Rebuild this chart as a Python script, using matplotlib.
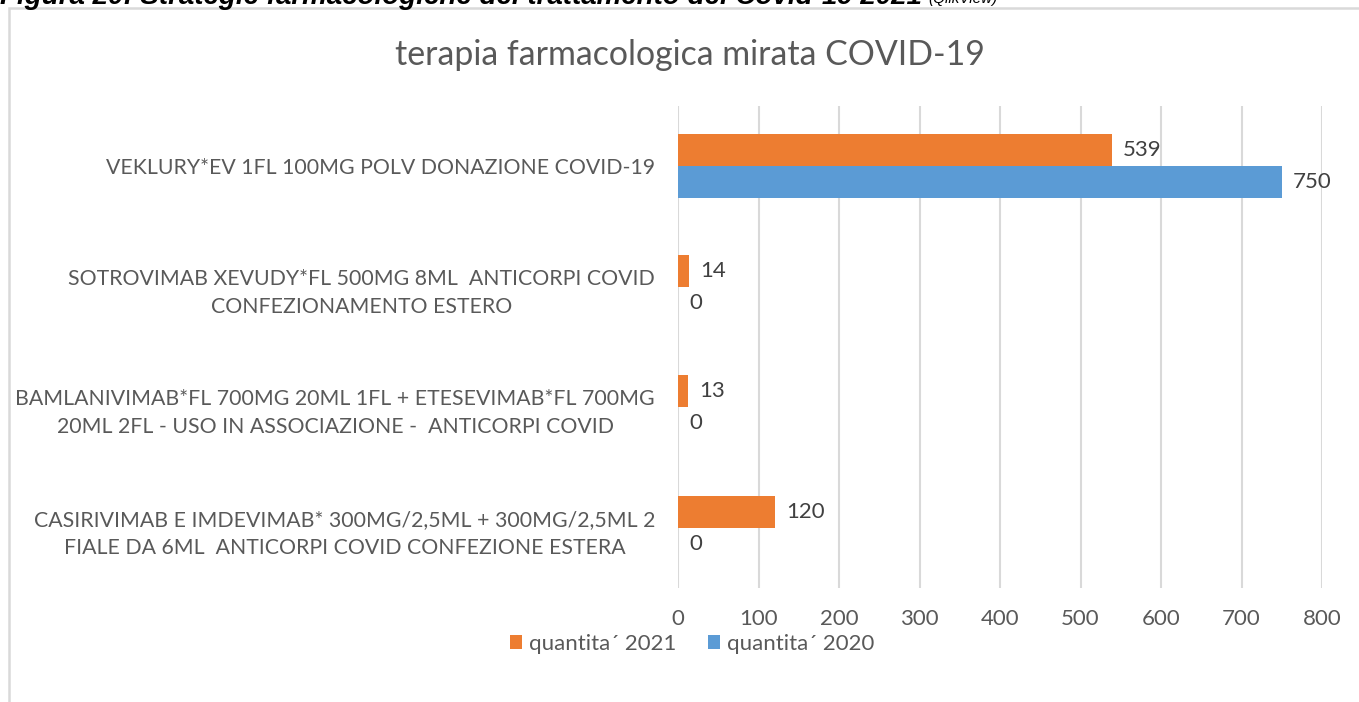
import numpy as np
import matplotlib.pyplot as plt
from matplotlib.patches import Rectangle

#-------------------------   Data   ---------------------------------
categories = ['VEKLURY*EV 1FL 100MG POLV DONAZIONE COVID-19',
              'SOTROVIMAB XEVUDY*FL 500MG 8ML  ANTICORPI COVID\nCONFEZIONAMENTO ESTERO',
              'BAMLANIVIMAB*FL 700MG 20ML 1FL + ETESEVIMAB*FL 700MG\n20ML 2FL - USO IN ASSOCIAZIONE -  ANTICORPI COVID',
              'CASIRIVIMAB E IMDEVIMAB* 300MG/2,5ML + 300MG/2,5ML 2\nFIALE DA 6ML  ANTICORPI COVID CONFEZIONE ESTERA']
q2021 = [539, 14, 13, 120]
q2020 = [750, 0, 0, 0]
series_names = ['quantita\u00b4 2021', 'quantita\u00b4 2020']
xticks = [0, 100, 200, 300, 400, 500, 600, 700, 800]

title = 'terapia farmacologica mirata COVID-19'
caption = 'Figura 20: Strategie farmacologiche del trattamento del Covid-19 2021'
caption_src = '(QlikView)'

#-------------------------   Style   ---------------------------------
plt.rcParams['font.family'] = ['Lato', 'DejaVu Sans']
txtcol = '#595959'
gridcol = '#d9d9d9'
cols = ['#ed7d31', '#5b9bd5']
fsize = 16
labsize = 15.3
bh = 0.265

fig = plt.figure(figsize=(13.59, 7.02), dpi=100)
ax = fig.add_axes([678/1359, 1-588/702, (1322-678)/1359, (588-106)/702])

ypos = np.arange(len(categories))
b1 = ax.barh(ypos - bh/2, q2021, height=bh, color=cols[0], label=series_names[0])
b2 = ax.barh(ypos + bh/2, q2020, height=bh, color=cols[1], label=series_names[1])
ax.bar_label(b1, padding=8, fontsize=fsize, color='#404040')
ax.bar_label(b2, padding=8, fontsize=fsize, color='#404040')

ax.set_ylim(len(categories) - 0.5, -0.5)
ax.set_xlim(0, 800)
ax.set_xticks(xticks)
ax.set_xticklabels([str(t) for t in xticks], fontsize=fsize, color=txtcol)
ax.set_yticks(ypos)
ax.set_yticklabels(categories, fontsize=labsize, color=txtcol, ha='right',
                   multialignment='center', linespacing=1.5)
ax.tick_params(axis='y', length=0, pad=(678-655)*0.72)
ax.tick_params(axis='x', length=0, pad=15)
for s in ax.spines.values():
    s.set_visible(False)
ax.set_axisbelow(True)
ax.xaxis.grid(True, color=gridcol, linewidth=1.5)

#Title
fig.text(690/1359, 1-65/702, title, ha='center', va='baseline', fontsize=24.4,
         color=txtcol)

#Legend
ax.legend(loc='center', bbox_to_anchor=(692/1359, 1-644/702),
          bbox_transform=fig.transFigure, ncol=2, frameon=False,
          fontsize=fsize, handlelength=0.55, handleheight=0.55,
          handletextpad=0.3, columnspacing=1.45, labelcolor=txtcol,
          borderpad=0, borderaxespad=0)

#Chart frame
fig.patches.append(Rectangle((9/1359, -0.1), 1.1, 1.1 - 8/702,
                             transform=fig.transFigure, fill=False,
                             edgecolor=gridcol, linewidth=1.8))

#Caption, cut by the top edge as in the source page
fig.text(0, 1-3.5/702, caption, ha='left', va='baseline', fontsize=20,
         fontweight='bold', style='italic', color='#000000',
         family='Liberation Sans')
fig.text(928/1359, 1-3.5/702, caption_src, ha='left', va='baseline', fontsize=11,
         style='italic', color='#000000', family='Liberation Sans')

plt.savefig('out.png', dpi=100)
